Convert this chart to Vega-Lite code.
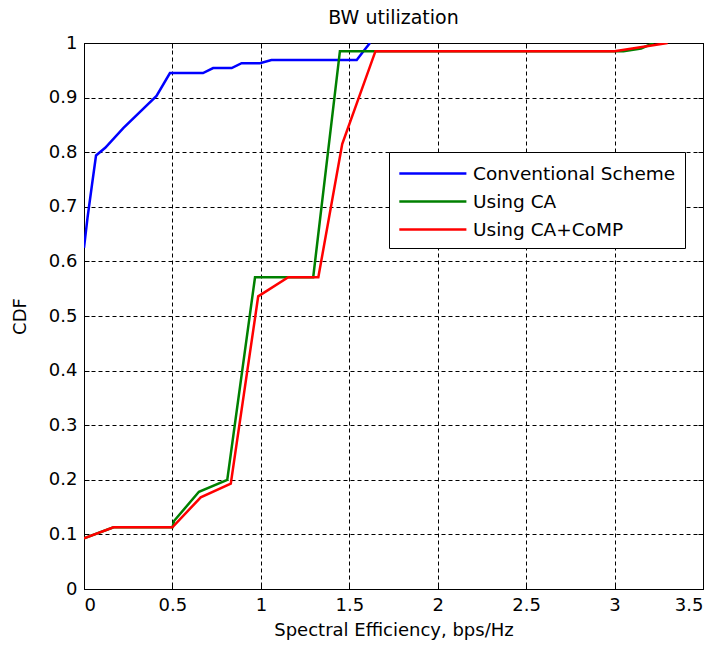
{
  "$schema": "https://vega.github.io/schema/vega-lite/v6.json",
  "autosize": "none",
  "padding": {"left": 84, "top": 43, "right": 15, "bottom": 63},
  "width": 619,
  "height": 546,
  "background": "white",
  "title": {"text": "BW utilization", "fontSize": 19, "font": "DejaVu Sans", "fontWeight": "normal", "color": "black", "offset": 6},
  "config": {
    "font": "DejaVu Sans",
    "view": {"stroke": "black", "strokeWidth": 1}
  },
  "data": {"values": [
    {"s": "Conventional Scheme", "i": 0, "x": 0, "y": 0.625},
    {"s": "Conventional Scheme", "i": 1, "x": 0.02, "y": 0.68},
    {"s": "Conventional Scheme", "i": 2, "x": 0.045, "y": 0.74},
    {"s": "Conventional Scheme", "i": 3, "x": 0.068, "y": 0.794},
    {"s": "Conventional Scheme", "i": 4, "x": 0.12, "y": 0.808},
    {"s": "Conventional Scheme", "i": 5, "x": 0.222, "y": 0.844},
    {"s": "Conventional Scheme", "i": 6, "x": 0.41, "y": 0.903},
    {"s": "Conventional Scheme", "i": 7, "x": 0.486, "y": 0.945},
    {"s": "Conventional Scheme", "i": 8, "x": 0.673, "y": 0.945},
    {"s": "Conventional Scheme", "i": 9, "x": 0.73, "y": 0.954},
    {"s": "Conventional Scheme", "i": 10, "x": 0.835, "y": 0.954},
    {"s": "Conventional Scheme", "i": 11, "x": 0.891, "y": 0.963},
    {"s": "Conventional Scheme", "i": 12, "x": 0.995, "y": 0.963},
    {"s": "Conventional Scheme", "i": 13, "x": 1.06, "y": 0.969},
    {"s": "Conventional Scheme", "i": 14, "x": 1.542, "y": 0.969},
    {"s": "Conventional Scheme", "i": 15, "x": 1.58, "y": 0.985},
    {"s": "Conventional Scheme", "i": 16, "x": 1.617, "y": 1.0},
    {"s": "Using CA", "i": 0, "x": 0, "y": 0.093},
    {"s": "Using CA", "i": 1, "x": 0.167, "y": 0.113},
    {"s": "Using CA", "i": 2, "x": 0.5, "y": 0.113},
    {"s": "Using CA", "i": 3, "x": 0.51, "y": 0.125},
    {"s": "Using CA", "i": 4, "x": 0.65, "y": 0.178},
    {"s": "Using CA", "i": 5, "x": 0.81, "y": 0.2},
    {"s": "Using CA", "i": 6, "x": 0.967, "y": 0.571},
    {"s": "Using CA", "i": 7, "x": 1.296, "y": 0.571},
    {"s": "Using CA", "i": 8, "x": 1.447, "y": 0.985},
    {"s": "Using CA", "i": 9, "x": 3.05, "y": 0.985},
    {"s": "Using CA", "i": 10, "x": 3.15, "y": 0.99},
    {"s": "Using CA", "i": 11, "x": 3.22, "y": 1.0},
    {"s": "Using CA+CoMP", "i": 0, "x": 0, "y": 0.093},
    {"s": "Using CA+CoMP", "i": 1, "x": 0.167, "y": 0.113},
    {"s": "Using CA+CoMP", "i": 2, "x": 0.5, "y": 0.113},
    {"s": "Using CA+CoMP", "i": 3, "x": 0.66, "y": 0.168},
    {"s": "Using CA+CoMP", "i": 4, "x": 0.83, "y": 0.193},
    {"s": "Using CA+CoMP", "i": 5, "x": 0.985, "y": 0.536},
    {"s": "Using CA+CoMP", "i": 6, "x": 1.155, "y": 0.571},
    {"s": "Using CA+CoMP", "i": 7, "x": 1.325, "y": 0.571},
    {"s": "Using CA+CoMP", "i": 8, "x": 1.46, "y": 0.815},
    {"s": "Using CA+CoMP", "i": 9, "x": 1.648, "y": 0.985},
    {"s": "Using CA+CoMP", "i": 10, "x": 3.0, "y": 0.985},
    {"s": "Using CA+CoMP", "i": 11, "x": 3.1, "y": 0.99},
    {"s": "Using CA+CoMP", "i": 12, "x": 3.2, "y": 0.995},
    {"s": "Using CA+CoMP", "i": 13, "x": 3.3, "y": 1.0}
  ]},
  "resolve": {"axis": {"x": "independent", "y": "independent"}},
  "layer": [
    {
      "mark": {"type": "line", "strokeWidth": 2.5, "clip": true},
      "encoding": {
        "x": {"field": "x", "type": "quantitative",
          "scale": {"domain": [0, 3.5], "nice": false, "zero": false},
          "axis": {"title": "Spectral Efficiency, bps/Hz", "values": [0, 0.5, 1, 1.5, 2, 2.5, 3, 3.5], "format": "~g",
            "grid": true, "gridColor": "black", "gridDash": [4, 3], "gridOpacity": 1, "gridWidth": 1,
            "domain": false, "tickColor": "black", "tickSize": -5, "labelPadding": 12,
            "labelFontSize": 18, "labelColor": "black", "labelFont": "DejaVu Sans",
            "titleFontSize": 18, "titleFontWeight": "normal", "titleColor": "black", "titlePadding": 7, "titleFont": "DejaVu Sans"}},
        "y": {"field": "y", "type": "quantitative",
          "scale": {"domain": [0, 1], "nice": false, "zero": false},
          "axis": {"title": "CDF", "values": [0, 0.1, 0.2, 0.3, 0.4, 0.5, 0.6, 0.7, 0.8, 0.9, 1], "format": "~g",
            "grid": true, "gridColor": "black", "gridDash": [4, 3], "gridOpacity": 1, "gridWidth": 1,
            "domain": false, "tickColor": "black", "tickSize": -5, "labelPadding": 12,
            "labelFontSize": 18, "labelColor": "black", "labelFont": "DejaVu Sans",
            "titleFontSize": 18, "titleFontWeight": "normal", "titleColor": "black", "titlePadding": 19, "titleFont": "DejaVu Sans"}},
        "color": {"field": "s", "type": "nominal",
          "scale": {"domain": ["Conventional Scheme", "Using CA", "Using CA+CoMP"], "range": ["#0000ff", "#008000", "#ff0000"]},
          "legend": {"title": null, "orient": "none", "legendX": 305, "legendY": 109,
            "strokeColor": "black", "fillColor": "white", "padding": 9,
            "symbolType": "M-1,0H5", "symbolSize": 500, "symbolStrokeWidth": 2.5,
            "labelFontSize": 18.5, "labelFont": "DejaVu Sans", "labelColor": "black", "labelOffset": 50, "labelLimit": 400,
            "rowPadding": 6, "cornerRadius": 0}},
        "order": {"field": "i", "type": "quantitative"}
      }
    },
    {
      "mark": {"type": "line", "strokeOpacity": 0},
      "encoding": {
        "x": {"field": "x", "type": "quantitative",
          "axis": {"orient": "top", "title": null, "labels": false, "grid": false, "domain": false, "values": [0, 0.5, 1, 1.5, 2, 2.5, 3, 3.5], "tickColor": "black", "tickSize": -5}},
        "y": {"field": "y", "type": "quantitative",
          "axis": {"orient": "right", "title": null, "labels": false, "grid": false, "domain": false, "values": [0, 0.1, 0.2, 0.3, 0.4, 0.5, 0.6, 0.7, 0.8, 0.9, 1], "tickColor": "black", "tickSize": -5}},
        "detail": {"field": "s", "type": "nominal"}
      }
    }
  ]
}
